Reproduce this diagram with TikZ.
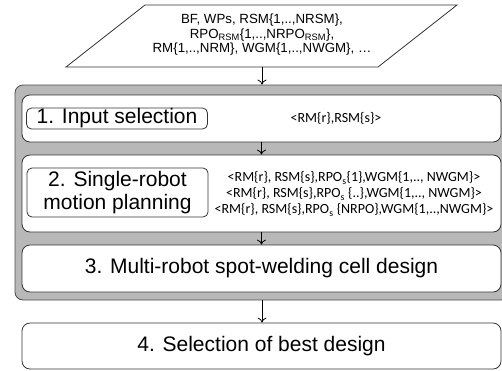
\documentclass[tikz,border=0pt]{standalone}
\usepackage{fontspec}
\setmainfont{Liberation Sans}
\newfontfamily\calibri{Carlito}
\usetikzlibrary{calc,arrows.meta}

\begin{document}
\begin{tikzpicture}[x=1pt, y=-1pt, >={To[length=5pt,width=9pt]},
        stage/.style={draw=black!80, line width=0.8pt, rounded corners=8pt, fill=white, minimum width=479pt, inner sep=0pt},
        tag/.style={draw=black!80, line width=0.8pt, rounded corners=5pt, minimum width=181pt, inner sep=0pt, align=center, font=\fontsize{21}{23}\selectfont},
        note/.style={align=center, font=\calibri\fontsize{14}{16}\selectfont}]
        \useasboundingbox (0,0) rectangle (502,370);

        % input data
        \draw[line width=0.8pt, black!80] (145,5) -- (457,5) -- (378,67) -- (66,67) -- cycle;
        \node[align=center, font=\fontsize{13.3}{14.5}\selectfont] (data) at (262,35) {BF, WPs, RSM\{1,..,NRSM\},\\ RPO\textsubscript{RSM}\{1,..,NRPO\textsubscript{RSM}\},\\ RM\{1,..,NRM\}, WGM\{1,..,NWGM\}, \dots};
        \coordinate (databot) at (262,67);

        % grey frame round steps 1-3
        \node[draw=black!70, line width=0.8pt, fill=black!28, rounded corners=8pt, minimum width=494pt, minimum height=215pt] (frame) at (262,192.5) {};

        \node[stage, minimum height=47pt] (sel) at (261.5,118.5) {};
        \node[tag, minimum height=21pt] (seltag) at (117,118.5) {1. Input selection};
        \node[note] (seltxt) at (336,118) {<RM\{r\},RSM\{s\}>};

        \node[stage, minimum height=77pt] (plan) at (261.5,193.5) {};
        \node[tag, minimum height=49pt] (plantag) at (117.5,192.5) {2. Single-robot\\motion planning};
        \node[note] (plantxt) at (354,194) {<RM\{r\}, RSM\{s\},RPO\textsubscript{s}\{1\},WGM\{1,.., NWGM\}>\\ <RM\{r\}, RSM\{s\},RPO\textsubscript{s} \{..\},WGM\{1,.., NWGM\}>\\ <RM\{r\}, RSM\{s\},RPO\textsubscript{s} \{NRPO\},WGM\{1,..,NWGM\}>};

        \node[stage, minimum height=47pt, font=\fontsize{21}{23}\selectfont] (cell) at (261.5,268.5) {3. Multi-robot spot-welding cell design};

        % final step
        \node[stage, minimum height=46pt, font=\fontsize{21}{23}\selectfont] (best) at (261.5,346) {4. Selection of best design};

        \draw[->, line width=0.8pt] (databot) -- (frame.north);
        \draw[->, line width=0.8pt] (sel) -- (plan);
        \draw[->, line width=0.8pt] (plan) -- (cell);
        \draw[->, line width=0.8pt] (frame.south) -- (frame.south |- best.north);
    \end{tikzpicture}
\end{document}
